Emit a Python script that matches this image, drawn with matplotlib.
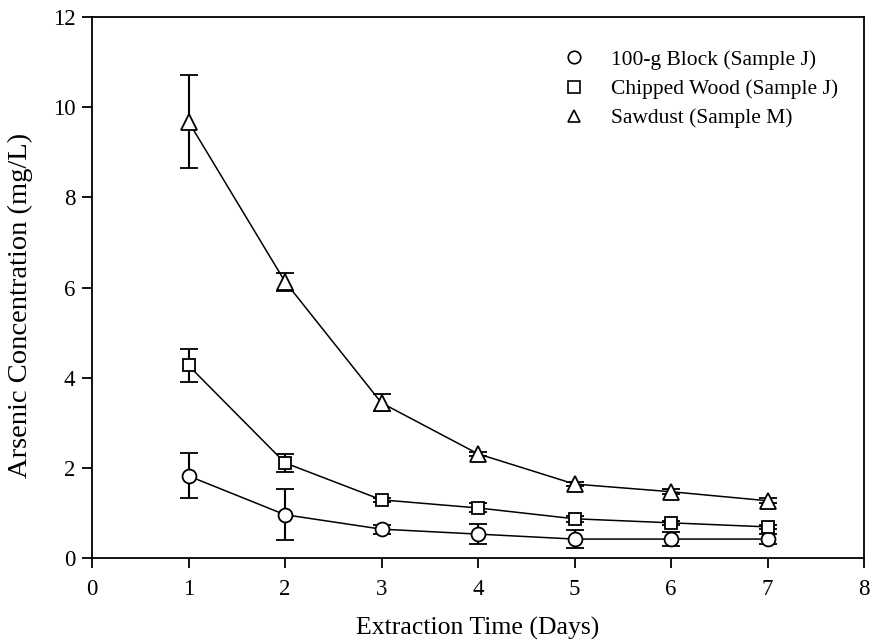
import matplotlib

matplotlib.use("Agg")
import matplotlib.pyplot as plt

plt.rcParams["font.family"] = ["Liberation Serif", "DejaVu Serif"]

days = [1, 2, 3, 4, 5, 6, 7]

block_mean = [1.82, 0.96, 0.64, 0.53, 0.42, 0.42, 0.42]
block_err = [0.50, 0.56, 0.10, 0.22, 0.20, 0.15, 0.12]

chipped_mean = [4.27, 2.11, 1.29, 1.11, 0.87, 0.78, 0.69]
chipped_err = [0.36, 0.20, 0.05, 0.10, 0.07, 0.05, 0.05]

sawdust_mean = [9.68, 6.13, 3.44, 2.31, 1.64, 1.47, 1.27]
sawdust_err = [1.03, 0.20, 0.19, 0.05, 0.05, 0.05, 0.05]

series = [
    ("100-g Block (Sample J)", "o", block_mean, block_err),
    ("Chipped Wood (Sample J)", "s", chipped_mean, chipped_err),
    ("Sawdust (Sample M)", "^", sawdust_mean, sawdust_err),
]
msize = {"o": 10, "s": 8.5, "^": 11}

fig = plt.figure(figsize=(8.72, 6.42), dpi=100)
ax = fig.add_axes([92 / 872, 84 / 642, 772 / 872, 541 / 642])

for label, marker, mean, err in series:
    ax.errorbar(days, mean, yerr=err, fmt="-", marker=marker, color="black", lw=1.1,
                mfc="white", mec="black", mew=1.3, ms=msize[marker],
                elinewidth=1.5, capsize=6.5, capthick=1.5, label=label)

ax.set_xlim(0, 8)
ax.set_ylim(0, 12)
ax.set_xticks(range(0, 9))
ax.set_yticks(range(0, 13, 2))
ax.tick_params(direction="out", length=7, width=1.3, labelsize=16.5)
ax.tick_params(axis="x", pad=8)
ax.tick_params(axis="y", pad=5)
for sp in ax.spines.values():
    sp.set_linewidth(1.3)

ax.set_xlabel("Extraction Time (Days)", fontsize=18.5, labelpad=12)
ax.set_ylabel("Arsenic Concentration (mg/L)", fontsize=20.5)
# label sits a little below the axes centre in the original
ax.yaxis.set_label_coords(-0.077, 0.467)

handles = [plt.Line2D([], [], ls="none", marker=m, color="black", mfc="white",
                      ms=9, mew=1.2) for _, m, _, _ in series]
ax.legend(handles, [s[0] for s in series], loc="upper right", frameon=False,
          fontsize=15.5, handletextpad=0.72, labelspacing=0.42,
          bbox_to_anchor=(0.991, 0.975))

fig.savefig("out.png", dpi=100)
